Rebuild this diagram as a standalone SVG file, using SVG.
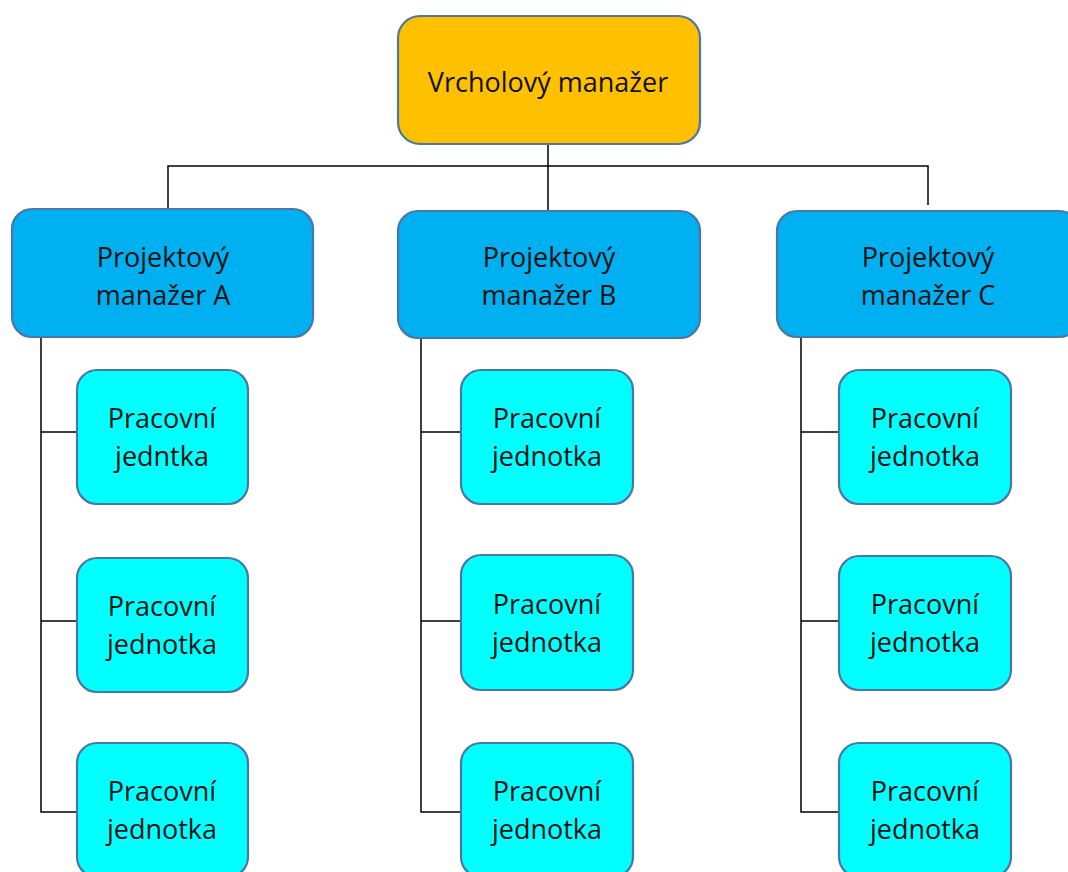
<svg xmlns="http://www.w3.org/2000/svg" width="1068" height="872" viewBox="0 0 1068 872">
  <style>
    .box { stroke: #4a76a8; stroke-width: 2.2; }
    .top { fill: #ffc000; }
    .pm { fill: #00b0f0; }
    .wu { fill: #00ffff; }
    .lbl { font-family: "Open Sans", "Liberation Sans", sans-serif; font-size: 27px; fill: #111; text-anchor: middle; }
    .conn { stroke: #000; stroke-width: 1.5; fill: none; }
  </style>

  <!-- connectors -->
  <g id="connectors">
    <path class="conn" d="M548 144 V210 M168 210 V166 H928 V205"/>
    <path class="conn" d="M41 337 V812 H77 M41 432 H77 M41 621 H77"/>
    <path class="conn" d="M421 338 V812 H461 M421 432 H461 M421 621 H461"/>
    <path class="conn" d="M801 338 V812 H839 M801 432 H839 M801 621 H839"/>
  </g>

  <g id="top-manager">
    <rect class="box top" x="398" y="16" width="302" height="128" rx="22"/>
    <text class="lbl" x="548" y="92">Vrcholový manažer</text>
  </g>

  <g id="pm-a">
    <rect class="box pm" x="12" y="209" width="301" height="128" rx="20"/>
    <text class="lbl" x="163" y="267">Projektový</text>
    <text class="lbl" x="163" y="305">manažer A</text>
  </g>
  <g id="pm-b">
    <rect class="box pm" x="398" y="211" width="302" height="127" rx="20"/>
    <text class="lbl" x="549" y="267">Projektový</text>
    <text class="lbl" x="549" y="305">manažer B</text>
  </g>
  <g id="pm-c">
    <rect class="box pm" x="777" y="211" width="302" height="126" rx="20"/>
    <text class="lbl" x="928" y="267">Projektový</text>
    <text class="lbl" x="928" y="305">manažer C</text>
  </g>

  <!-- column A work units -->
  <g id="wu-a1">
    <rect class="box wu" x="77" y="370" width="171" height="134" rx="20"/>
    <text class="lbl" x="162" y="428">Pracovní</text>
    <text class="lbl" x="162" y="466">jedntka</text>
  </g>
  <g id="wu-a2">
    <rect class="box wu" x="77" y="558" width="171" height="134" rx="20"/>
    <text class="lbl" x="162" y="616">Pracovní</text>
    <text class="lbl" x="162" y="654">jednotka</text>
  </g>
  <g id="wu-a3">
    <rect class="box wu" x="77" y="743" width="171" height="134" rx="20"/>
    <text class="lbl" x="162" y="801">Pracovní</text>
    <text class="lbl" x="162" y="839">jednotka</text>
  </g>

  <!-- column B work units -->
  <g id="wu-b1">
    <rect class="box wu" x="461" y="370" width="172" height="134" rx="20"/>
    <text class="lbl" x="547" y="428">Pracovní</text>
    <text class="lbl" x="547" y="466">jednotka</text>
  </g>
  <g id="wu-b2">
    <rect class="box wu" x="461" y="555" width="172" height="135" rx="20"/>
    <text class="lbl" x="547" y="614">Pracovní</text>
    <text class="lbl" x="547" y="652">jednotka</text>
  </g>
  <g id="wu-b3">
    <rect class="box wu" x="461" y="743" width="172" height="134" rx="20"/>
    <text class="lbl" x="547" y="801">Pracovní</text>
    <text class="lbl" x="547" y="839">jednotka</text>
  </g>

  <!-- column C work units -->
  <g id="wu-c1">
    <rect class="box wu" x="839" y="370" width="172" height="134" rx="20"/>
    <text class="lbl" x="925" y="428">Pracovní</text>
    <text class="lbl" x="925" y="466">jednotka</text>
  </g>
  <g id="wu-c2">
    <rect class="box wu" x="839" y="556" width="172" height="134" rx="20"/>
    <text class="lbl" x="925" y="614">Pracovní</text>
    <text class="lbl" x="925" y="652">jednotka</text>
  </g>
  <g id="wu-c3">
    <rect class="box wu" x="839" y="743" width="172" height="134" rx="20"/>
    <text class="lbl" x="925" y="801">Pracovní</text>
    <text class="lbl" x="925" y="839">jednotka</text>
  </g>
</svg>
